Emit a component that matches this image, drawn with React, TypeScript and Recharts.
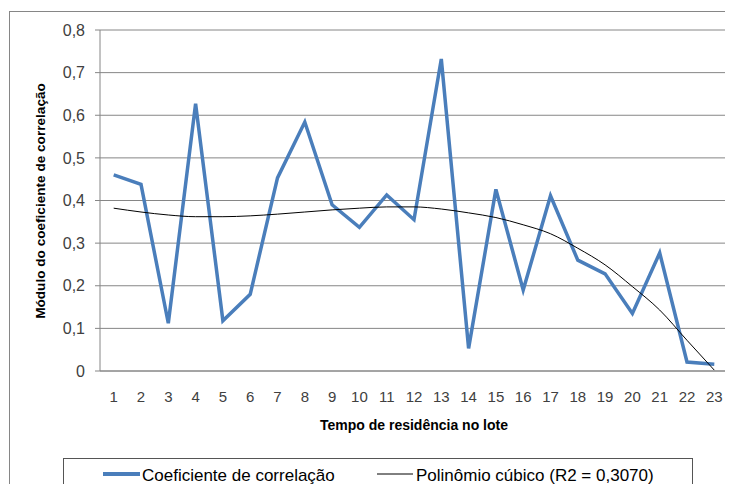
import { ComposedChart, Line, XAxis, YAxis, CartesianGrid } from 'recharts';

const categories = ['1', '2', '3', '4', '5', '6', '7', '8', '9', '10', '11', '12', '13', '14', '15', '16', '17', '18', '19', '20', '21', '22', '23'];
const coeficiente = [0.46, 0.438, 0.112, 0.627, 0.118, 0.18, 0.453, 0.584, 0.39, 0.337, 0.413, 0.355, 0.732, 0.053, 0.426, 0.19, 0.411, 0.26, 0.228, 0.135, 0.277, 0.021, 0.016];
const polinomio = [0.382, 0.373, 0.366, 0.362, 0.362, 0.364, 0.368, 0.373, 0.378, 0.382, 0.385, 0.385, 0.38, 0.371, 0.36, 0.343, 0.322, 0.288, 0.249, 0.198, 0.143, 0.072, 0.002];
const yTicks = [0, 0.1, 0.2, 0.3, 0.4, 0.5, 0.6, 0.7, 0.8];
const seriesNames = ['Coeficiente de correlação', 'Polinômio cúbico (R2 = 0,3070)'];
const xTitle = 'Tempo de residência no lote';
const yTitle = 'Módulo do coeficiente de correlação';

const data = categories.map((c, i) => ({ tempo: c, coef: coeficiente[i], poli: polinomio[i] }));

const FONT = '"Liberation Sans", Arial, sans-serif';
const GRID = '#868686';
const BLUE = '#4a7ebb';

const fmt = (v: number) => (v === 0 ? '0' : v.toFixed(1).replace('.', ','));

export default function App() {
  return (
    <div style={{ margin: -8, width: 733, height: 492, position: 'relative', overflow: 'hidden', background: '#fff', fontFamily: FONT }}>
      <ComposedChart width={733} height={492} data={data} margin={{ top: 30, right: 5, bottom: 91, left: 0 }}>
        <CartesianGrid vertical={false} stroke={GRID} strokeWidth={1} />
        <XAxis
          dataKey="tempo"
          height={30}
          padding={{ left: 13.7, right: 13.7 }}
          tickLine={false}
          tickSize={0}
          tickMargin={20}
          axisLine={{ stroke: GRID }}
          tick={{ fontSize: 15, fill: '#404040', fontFamily: FONT }}
          interval={0}
        />
        <YAxis
          width={100}
          domain={[0, 0.8]}
          ticks={yTicks}
          tickFormatter={fmt}
          tickSize={5}
          tickMargin={10}
          axisLine={{ stroke: GRID }}
          tickLine={{ stroke: GRID }}
          tick={{ fontSize: 16, fill: '#404040', fontFamily: FONT }}
        />
        <Line type="linear" dataKey="coef" name={seriesNames[0]} stroke={BLUE} strokeWidth={3.5} dot={false} isAnimationActive={false} />
        <Line type="monotone" dataKey="poli" name={seriesNames[1]} stroke="#000" strokeWidth={1} dot={false} isAnimationActive={false} />
      </ComposedChart>
      <svg width={733} height={492} style={{ position: 'absolute', left: 0, top: 0, pointerEvents: 'none' }}>
        <rect x={9.5} y={11.5} width={740} height={500} fill="none" stroke={GRID} />
        <text x={414} y={430} textAnchor="middle" fontSize={14} fontWeight="bold" fontFamily={FONT} fill="#000">{xTitle}</text>
        <text x={45} y={201} transform="rotate(-90 45 201)" textAnchor="middle" fontSize={13.6} fontWeight="bold" fontFamily={FONT} fill="#000">{yTitle}</text>
        <rect x={63.5} y={458.5} width={629} height={29} fill="#fff" stroke="#555" />
        <line x1={103} x2={140} y1={474} y2={474} stroke={BLUE} strokeWidth={4} />
        <text x={142} y={481} fontSize={17} fontFamily={FONT} fill="#000">{seriesNames[0]}</text>
        <line x1={377} x2={413} y1={474} y2={474} stroke="#000" strokeWidth={1} />
        <text x={416} y={481} fontSize={17} fontFamily={FONT} fill="#000">{seriesNames[1]}</text>
      </svg>
    </div>
  );
}
